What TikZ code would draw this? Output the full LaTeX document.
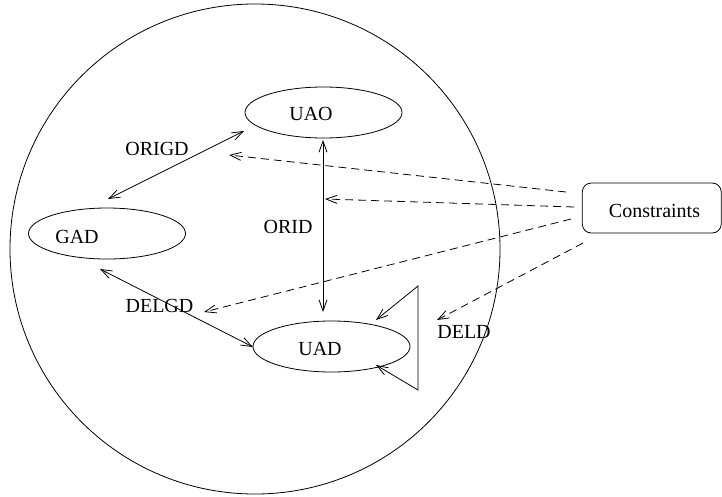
\documentclass[tikz,border=0pt]{standalone}
\usepackage{fontspec}
\setmainfont{Liberation Serif}
\usetikzlibrary{arrows.meta,shapes.geometric}
\begin{document}
\begin{tikzpicture}[x=1pt,y=-1pt,
  every node/.style={font=\fontsize{20}{24}\selectfont, inner sep=0pt},
  vee/.tip={Straight Barb[length=11pt,width=8pt]},
  relline/.style={line width=0.8pt},
  hintline/.style={line width=0.8pt, dash pattern=on 8pt off 5pt, -{vee}},
  realm/.style={ellipse, draw, line width=0.8pt, minimum width=157pt, minimum height=51pt}]
\useasboundingbox (0,0) rectangle (722,496);

% outer region
\node[circle, draw, line width=0.8pt, minimum size=490pt] (world) at (255,249) {};

% the three domains
\node[realm] (uao) at (323.5,112.5) {};
\node[realm] (gad) at (107,233.5) {};
\node[realm] (uad) at (331.5,346.5) {};
\node (uaoT) at (311,114) {UAO};
\node (gadT) at (77,236.5) {GAD};
\node (uadT) at (320,349) {UAD};

% constraints box
\node[draw, line width=0.8pt, rounded corners=9pt, minimum width=139pt, minimum height=50pt]
  (cons) at (651.75,208) {};
\node (consT) at (654.5,211) {Constraints};

% relation end points
\coordinate (origdA) at (108,199);
\coordinate (origdB) at (244,131);
\coordinate (oridA) at (323,140);
\coordinate (oridB) at (323,312);
\coordinate (delgdA) at (100,269);
\coordinate (delgdB) at (253,347);
\coordinate (trTop) at (418,286);
\coordinate (trBot) at (418,390);
\coordinate (trInA) at (376,320);
\coordinate (trInB) at (376,365);

\draw[relline, {vee}-{vee}] (origdA) -- (origdB);
\draw[relline, {vee}-{vee}] (oridA) -- (oridB);
\draw[relline, {vee}-{vee}] (delgdA) -- (delgdB);
\draw[relline, {vee}-{vee}] (trInA) -- (trTop) -- (trBot) -- (trInB);

% constraint links
\coordinate (cs1) at (566,192);
\coordinate (cs2) at (574,207);
\coordinate (cs3) at (571,219);
\coordinate (cs4) at (583,243);
\coordinate (ct1) at (229,155);
\coordinate (ct2) at (325,199);
\coordinate (ct3) at (204,312);
\coordinate (ct4) at (437,320);
\draw[hintline] (cs1) -- (ct1);
\draw[hintline] (cs2) -- (ct2);
\draw[hintline] (cs3) -- (ct3);
\draw[hintline] (cs4) -- (ct4);

% relation names
\node (origdT) at (157,149) {ORIGD};
\node (oridT) at (288,227) {ORID};
\node (delgdT) at (159.5,305.5) {DELGD};
\node (deldT) at (464,332) {DELD};
\end{tikzpicture}
\end{document}
